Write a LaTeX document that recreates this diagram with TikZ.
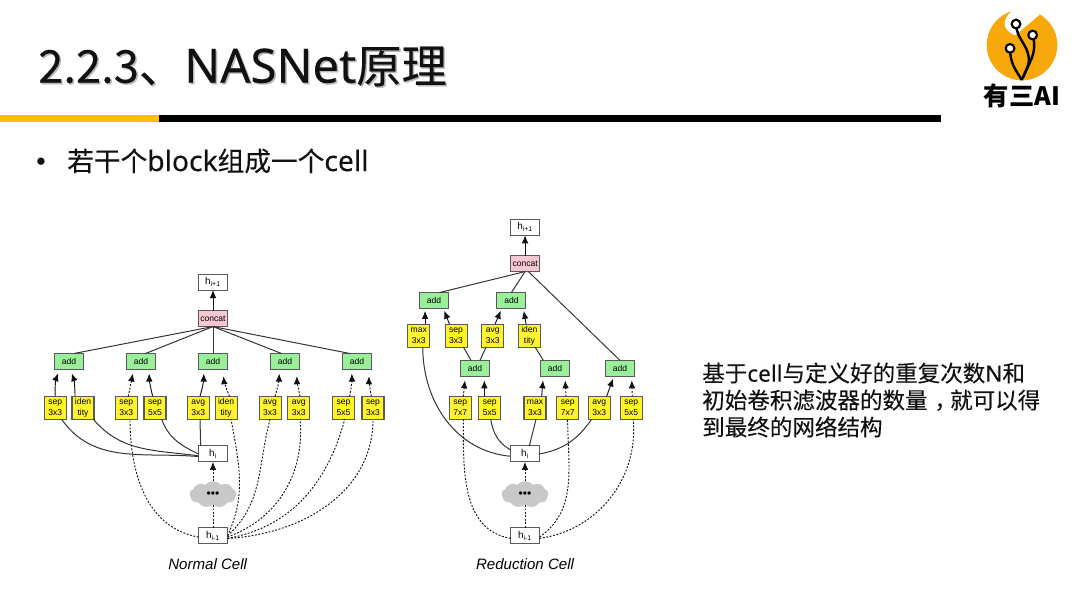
\documentclass[tikz,border=0pt]{standalone}
\usepackage{fontspec}
\usepackage{tikz}
\usetikzlibrary{arrows.meta,positioning,shapes.symbols,calc}
\setmainfont{Liberation Sans}
\newfontfamily\cjk[FakeBold=0.2]{Noto Sans CJK SC}
\newfontfamily\cjkbold{Noto Sans CJK SC}
\newfontfamily\latn[FakeBold=0.2]{Noto Sans}
\definecolor{ink}{HTML}{111111}
\definecolor{edge}{HTML}{5A5A5A}
\definecolor{gold}{HTML}{FFC000}
\definecolor{logoorange}{HTML}{F7A80D}
\definecolor{opfill}{HTML}{FFF22E}
\definecolor{addfill}{HTML}{9AF09A}
\definecolor{catfill}{HTML}{F8C8D2}
\definecolor{puff}{HTML}{C8C8C8}

\begin{document}
\begin{tikzpicture}[
  x=.75pt,y=-.75pt,
  cellbox/.style={draw=edge,line width=.8pt,fill=white,inner sep=0pt,outer sep=0pt,minimum width=21.75pt,minimum height=12pt,font=\fontsize{7.4}{8}\selectfont},
  addbox/.style={cellbox,fill=addfill,font=\fontsize{6.4}{8}\selectfont},
  catbox/.style={addbox,fill=catfill},
  opbox/.style={cellbox,fill=opfill,align=center,minimum width=16.5pt,minimum height=17.25pt,font=\fontsize{6.4}{8}\selectfont},
  cloudbox/.style={cloud,cloud puffs=9,cloud puff arc=100,aspect=1.8,fill=puff,inner sep=0pt,outer sep=0pt,minimum width=35pt,minimum height=20pt,font=\fontsize{9}{9}\selectfont},
  arr/.style={-{Latex[length=6pt,width=5pt]},draw=ink,line width=.7pt,shorten >=3pt},
  dasharr/.style={arr,dash pattern=on 1.4pt off 1.2pt},
  lnk/.style={draw=ink!85,line width=.75pt},
  dashlnk/.style={draw=ink,line width=.7pt,dash pattern=on 1.4pt off 1.2pt},
  capt/.style={font=\fontsize{11.3}{13}\selectfont\itshape}]
  \useasboundingbox (0,0) rectangle (1080,608);

  % header
  \node[anchor=west,inner sep=0pt,text=black!28,font=\cjk\fontsize{34}{40}\selectfont] (shade) at (39.5,68) {2.2.3、{\latn\fontsize{35.5}{40}\selectfont NASNet}原理};
  \node[anchor=west,inner sep=0pt,text=ink,font=\cjk\fontsize{34}{40}\selectfont] (title) at (38,66.5) {2.2.3、{\latn\fontsize{35.5}{40}\selectfont NASNet}原理};
  \fill[gold] (0,115) rectangle (158.5,121.5);
  \fill[black] (158.5,115) rectangle (941,121.5);
  \node[anchor=center,inner sep=0pt,text=ink,font=\fontsize{20}{24}\selectfont] (dot) at (41,164) {•};
  \node[anchor=west,inner sep=0pt,text=ink,font=\cjk\fontsize{20}{24}\selectfont] (lead) at (67,161) {若干个{\latn\fontsize{21.2}{24}\selectfont block}组成一个{\latn\fontsize{21.2}{24}\selectfont cell}};
  \node[anchor=west,inner sep=0pt,align=left,text=ink,font=\cjk\fontsize{16.9}{20.25}\selectfont] (note) at (702,400) {基于{\latn cell}与定义好的重复次数{\latn N}和\\初始卷积滤波器的数量\hspace{.3em}，\hspace{-.3em}就可以得\\到最终的网络结构};

  % logo
  \begin{scope}[shift={(960,0)},x=.25pt,y=-.25pt]
    \fill[logoorange] (186,135) circle (106);
    \fill[white] (160,30) .. controls (122,58) and (128,92) .. (165,106) -- (238,45) -- (240,15) -- (150,15) -- cycle;
    \draw[black,line width=1.8pt] (185,240) .. controls (172,215) and (150,195) .. (150,145);
    \draw[black,line width=1.8pt] (185,240) .. controls (195,215) and (212,195) .. (205,165) .. controls (198,130) and (170,115) .. (168,72);
    \draw[black,line width=1.8pt] (190,232) .. controls (200,195) and (235,165) .. (218,105);
    \draw[black,fill=white,line width=1.6pt] (168,72) circle (13);
    \draw[black,fill=white,line width=1.6pt] (218,105) circle (13);
    \draw[black,fill=white,line width=1.6pt] (150,145) circle (13);
  \end{scope}
  \node[anchor=center,inner sep=0pt,text=black,font=\cjkbold\bfseries\fontsize{19}{22}\selectfont] (brand) at (1022,96) {有三AI};

  % normal cell
  \node[cellbox] (nprev) at (213,535.7) {h\textsubscript{i-1}};
  \node[cloudbox,above=17.25pt of nprev] (ncloud) {•••};
  \node[cellbox,above=14.4pt of ncloud] (ncur) {h\textsubscript{i}};
  \node[opbox,above=20pt of ncur,xshift=-11pt] (ny5) {avg\\3x3};
  \node[opbox,left=16pt of ny5] (ny4) {sep\\5x5};
  \node[opbox,left=5pt of ny4] (ny3) {sep\\3x3};
  \node[opbox,left=16pt of ny3] (ny2) {iden\\tity};
  \node[opbox,left=4.3pt of ny2] (ny1) {sep\\3x3};
  \node[opbox,right=4.3pt of ny5] (ny6) {iden\\tity};
  \node[opbox,right=16.5pt of ny6] (ny7) {avg\\3x3};
  \node[opbox,right=5pt of ny7] (ny8) {avg\\3x3};
  \node[opbox,right=17pt of ny8] (ny9) {sep\\5x5};
  \node[opbox,right=5.7pt of ny9] (ny10) {sep\\3x3};
  \node[addbox,above=20pt of ny5,xshift=11pt] (na3) {add};
  \node[addbox,left=32.25pt of na3] (na2) {add};
  \node[addbox,left=32.25pt of na2] (na1) {add};
  \node[addbox,right=32.25pt of na3] (na4) {add};
  \node[addbox,right=32.25pt of na4] (na5) {add};
  \node[catbox,above=20.25pt of na3] (ncat) {concat};
  \node[cellbox,above=15.4pt of ncat] (nnext) {h\textsubscript{i+1}};
  \node[capt,below=11pt of nprev,xshift=-4pt,inner sep=0pt] (ncapt) {Normal Cell};

  \draw[arr,shorten >=0pt] (ncat) -- (nnext);
  \draw[lnk] (ncat.south) -- ([xshift=3.5pt]na1.north);
  \draw[lnk] (ncat.south) -- ([xshift=3.25pt]na2.north);
  \draw[lnk] (ncat.south) -- (na3.north);
  \draw[lnk] (ncat.south) -- ([xshift=-2.5pt]na4.north);
  \draw[lnk] (ncat.south) -- ([xshift=-5pt]na5.north);
  \draw[arr] (ny1.north) to[bend left=12] ([xshift=-7pt]na1.south);
  \draw[arr] ([xshift=-6pt]ny2.north) to[bend right=10] ([xshift=1pt]na1.south);
  \draw[dasharr] ([xshift=1.5pt]ny3.north) -- ([xshift=-5.5pt]na2.south);
  \draw[arr] ([xshift=-1.75pt]ny4.north) to[bend left=6] ([xshift=6pt]na2.south);
  \draw[arr] ([xshift=1.25pt]ny5.north) to[bend right=8] ([xshift=-7pt]na3.south);
  \draw[dasharr,shorten >=5pt] ([xshift=2.5pt]ny6.north) to[bend left=8] ([xshift=7.3pt]na3.south);
  \draw[dasharr] ([xshift=3.75pt]ny7.north) to[bend right=8] ([xshift=-4.3pt]na4.south);
  \draw[dasharr,shorten >=5pt] ([xshift=1pt]ny8.north) to[bend left=6] ([xshift=8.8pt]na4.south);
  \draw[dasharr] ([xshift=4.75pt]ny9.north) to[bend right=6] ([xshift=-4pt]na5.south);
  \draw[dasharr,shorten >=5pt] ([xshift=-1.25pt]ny10.north) to[bend left=6] ([xshift=9.2pt]na5.south);
  \draw[lnk] ([xshift=4.75pt]ny1.south) to[out=-55,in=175] ([yshift=-2pt]ncur.west);
  \draw[lnk] ([xshift=7.75pt]ny2.south) to[out=-50,in=172] ([yshift=-1.5pt]ncur.west);
  \draw[lnk] ([xshift=5pt]ny4.south) to[out=-70,in=155] (ncur.west);
  \draw[lnk] ([xshift=1.25pt]ny5.south) -- ([xshift=-9.25pt]ncur.north);
  \draw[dasharr,shorten >=0pt] (ncloud.north) -- (ncur.south);
  \draw[dashlnk] (nprev.north) -- (ncloud.south);
  \draw[dashlnk] ([yshift=-1pt]nprev.west) to[out=170,in=-90] ([xshift=2.75pt]ny3.south);
  \draw[dashlnk] (nprev.east) to[out=65,in=-80] ([xshift=3.75pt]ny6.south);
  \draw[dashlnk] (nprev.east) to[out=42,in=-105] (ny7.south);
  \draw[dashlnk] ([yshift=-1pt]nprev.east) to[out=20,in=-85] ([xshift=1pt]ny8.south);
  \draw[dashlnk] ([yshift=-2pt]nprev.east) to[out=10,in=-105] ([xshift=1pt]ny9.south);
  \draw[dashlnk] ([yshift=-2pt]nprev.east) to[out=3,in=-90] (ny10.south);

  % reduction cell
  \node[cellbox] (rprev) at (525,535.7) {h\textsubscript{i-1}};
  \node[cloudbox,above=17.25pt of rprev] (rcloud) {•••};
  \node[cellbox,above=14.4pt of rcloud] (rcur) {h\textsubscript{i}};
  \node[opbox,above=19.9pt of rcur,xshift=7.5pt] (ry3) {max\\3x3};
  \node[opbox,left=17.5pt of ry3] (ry2) {sep\\5x5};
  \node[opbox,left=5.5pt of ry2] (ry1) {sep\\7x7};
  \node[opbox,right=8pt of ry3] (ry4) {sep\\7x7};
  \node[opbox,right=7.2pt of ry4] (ry5) {avg\\3x3};
  \node[opbox,right=7.5pt of ry5] (ry6) {sep\\5x5};
  \node[addbox,above=15pt of ry2,xshift=-11pt] (rb1) {add};
  \node[addbox,above=15pt of ry3,xshift=15pt] (rb2) {add};
  \node[addbox,above=15pt of ry5,xshift=15.5pt] (rb3) {add};
  \node[opbox,above=10pt of rb1,xshift=13.3pt] (rt3) {avg\\3x3};
  \node[opbox,left=11pt of rt3] (rt2) {sep\\3x3};
  \node[opbox,left=11.5pt of rt2] (rt1) {max\\3x3};
  \node[opbox,right=11pt of rt3] (rt4) {iden\\tity};
  \node[addbox,above=11.6pt of rt1,xshift=11.5pt] (ra1) {add};
  \node[addbox,above=11.6pt of rt3,xshift=14pt] (ra2) {add};
  \node[catbox,above=15.75pt of ra2,xshift=10.25pt] (rcat) {concat};
  \node[cellbox,above=15.2pt of rcat] (rnext) {h\textsubscript{i+1}};
  \node[capt,below=11pt of rprev,inner sep=0pt] (rcapt) {Reduction Cell};

  \draw[arr,shorten >=0pt] (rcat) -- (rnext);
  \draw[lnk] (rcat.south) -- ([xshift=4pt]ra1.north);
  \draw[lnk] (rcat.south) -- (ra2.north);
  \draw[lnk] ([xshift=2.5pt]rcat.south) -- (rb3.north);
  \draw[arr,shorten >=1.75pt] ([xshift=4.75pt]rt1.north) -- ([xshift=-6.75pt]ra1.south);
  \draw[arr,shorten >=1.75pt] ([xshift=-5pt]rt2.north) -- ([xshift=7pt]ra1.south);
  \draw[arr,shorten >=1.75pt] ([xshift=1.75pt]rt3.north) -- ([xshift=-7.25pt]ra2.south);
  \draw[arr,shorten >=1.75pt] ([xshift=-2.5pt]rt4.north) -- ([xshift=9pt]ra2.south);
  \draw[lnk] ([xshift=5.5pt]rt2.south) -- ([xshift=-3pt]rb1.north);
  \draw[lnk] ([xshift=-5pt]rt3.south) -- ([xshift=3.75pt]rb1.north);
  \draw[lnk] ([xshift=4.25pt]rt4.south) -- ([xshift=-8.75pt]rb2.north);
  \draw[dasharr] ([xshift=2.25pt]ry1.north) -- ([xshift=-7.25pt]rb1.south);
  \draw[arr] ([xshift=-4pt]ry2.north) -- ([xshift=7pt]rb1.south);
  \draw[arr] ([xshift=5pt]ry3.north) -- ([xshift=-8.75pt]rb2.south);
  \draw[dasharr] ([xshift=-1.25pt]ry4.north) -- ([xshift=7.5pt]rb2.south);
  \draw[arr,shorten >=1.75pt] ([xshift=5.5pt]ry5.north) -- ([xshift=-4.5pt]rb3.south);
  \draw[dasharr] ([xshift=.75pt]ry6.north) -- ([xshift=8.75pt]rb3.south);
  \draw[lnk] ([xshift=3pt]rt1.south) to[out=-90,in=175] ([yshift=-1.75pt]rcur.west);
  \draw[lnk] ([xshift=.75pt]ry2.south) to[out=-80,in=150] ([yshift=3pt]rcur.west);
  \draw[lnk] ([xshift=.75pt]ry3.south) -- ([xshift=3.25pt]rcur.north);
  \draw[lnk] ([xshift=-5.75pt]ry5.south) to[out=-125,in=10] (rcur.east);
  \draw[dasharr,shorten >=0pt] (rcloud.north) -- (rcur.south);
  \draw[dashlnk] (rprev.north) -- (rcloud.south);
  \draw[dashlnk] ([yshift=-2pt]rprev.west) to[out=170,in=-90] ([xshift=2.25pt]ry1.south);
  \draw[dashlnk] ([yshift=-1pt]rprev.east) to[out=35,in=-90] (ry4.south);
  \draw[dashlnk] ([yshift=-2pt]rprev.east) to[out=8,in=-85] ([xshift=1.5pt]ry6.south);
\end{tikzpicture}
\end{document}
